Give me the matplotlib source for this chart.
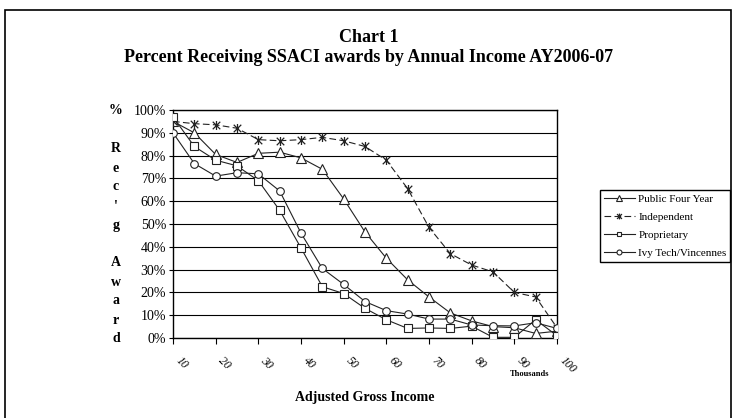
import matplotlib
matplotlib.use("Agg")
import matplotlib.pyplot as plt
from matplotlib.path import Path
from matplotlib.patches import Rectangle

plt.rcParams['font.family'] = ['Liberation Serif', 'DejaVu Serif']

income = [10, 15, 20, 25, 30, 35, 40, 45, 50, 55, 60, 65, 70, 75, 80, 85, 90, 95, 100]
public_four = [95, 90, 80.5, 77, 81, 81.5, 79, 74, 61, 46.5, 35, 25.5, 18, 11, 7.5, 5, 4.5, 2, 3]
independent = [95, 94, 93.5, 92, 87, 86.5, 87, 88, 86.5, 84, 78, 65.5, 48.5, 37, 32, 29, 20, 18, 4.5]
proprietary = [97, 84, 78, 75.5, 69, 56, 39.5, 22.5, 19.5, 13, 8, 4.2, 4.4, 4.2, 5.2, 0.3, 0.3, 8, 1]
ivy_tech = [90, 76.5, 71, 72.5, 72, 64.5, 46, 30.5, 23.5, 16, 12, 10.5, 8.3, 8.3, 5.7, 5.4, 5.3, 6.7, 4.2]
tick_vals = [10, 20, 30, 40, 50, 60, 70, 80, 90, 100]
tick_labels = ['10', '20', '30', '40', '50', '60', '70', '80', '90', '100']
series_names = ['Public Four Year', 'Independent', 'Proprietary', 'Ivy Tech/Vincennes']

star = Path([(-1, -1), (1, 1), (-1, 1), (1, -1), (0, -1.2), (0, 1.2)],
            [Path.MOVETO, Path.LINETO, Path.MOVETO, Path.LINETO, Path.MOVETO, Path.LINETO])

fig = plt.figure(figsize=(7.38, 4.18), dpi=100)
ax = fig.add_axes([173/738, 1-338/418, (557-173)/738, (338-110)/418])

lc = '#222222'
ax.plot(income, public_four, color=lc, lw=0.8, marker='^', ms=6.5, mfc='white', mec=lc, mew=0.8,
        label=series_names[0], zorder=3)
ax.plot(income, independent, color=lc, lw=0.8, ls=(0, (6, 3)), marker=star, ms=6.5, mec=lc, mew=0.9,
        label=series_names[1], zorder=3)
ax.plot(income, proprietary, color=lc, lw=0.8, marker='s', ms=5.5, mfc='white', mec=lc, mew=0.8,
        label=series_names[2], zorder=3)
ax.plot(income, ivy_tech, color=lc, lw=0.8, marker='o', ms=5.5, mfc='white', mec=lc, mew=0.8,
        label=series_names[3], zorder=3)

ax.set_xlim(10, 100)
ax.set_ylim(0, 100)
ax.set_yticks(range(0, 101, 10))
ax.set_yticklabels([f'{v}%' for v in range(0, 101, 10)], fontsize=10)
ax.yaxis.grid(True, color='black', lw=0.8)
ax.set_axisbelow(True)
ax.set_xticks(tick_vals)
ax.set_xticklabels(tick_labels, fontsize=8.5, rotation=-45, ha='left', va='top', style='italic')
ax.tick_params(axis='x', direction='out', length=4, pad=8)
ax.tick_params(axis='y', direction='out', length=3, pad=2)
for s in ax.spines.values():
    s.set_linewidth(1.0)
    s.set_color('black')

# outer chart border
fig.patches.append(Rectangle((5/738, -0.1), (731-5)/738, 1.1 - 10/418, transform=fig.transFigure,
                             fill=False, ec='black', lw=1.2))

fig.text(0.5, 1-37/418, 'Chart 1', ha='center', va='center', fontsize=13, fontweight='bold')
fig.text(0.5, 1-58/418, 'Percent Receiving SSACI awards by Annual Income AY2006-07',
         ha='center', va='center', fontsize=13, fontweight='bold')

fig.text(116/738, 1-225/418, "%\n\nR\ne\nc\n'\ng\n\nA\nw\na\nr\nd", ha='center', va='center',
         fontsize=10, fontweight='bold', linespacing=1.6)
fig.text(365/738, 1-397/418, 'Adjusted Gross Income', ha='center', va='center',
         fontsize=10, fontweight='bold')
fig.text(530/738, 1-374/418, 'Thousands', ha='center', va='center', fontsize=6, fontweight='bold')

fig.legend(loc='upper left', bbox_to_anchor=(600/738, 1-190/418), fontsize=8, frameon=True,
           fancybox=False, edgecolor='black', framealpha=1, handlelength=2.8, labelspacing=0.75,
           borderpad=0.35, handletextpad=0.3, borderaxespad=0, markerscale=0.65)

fig.savefig('out.png', dpi=100)
